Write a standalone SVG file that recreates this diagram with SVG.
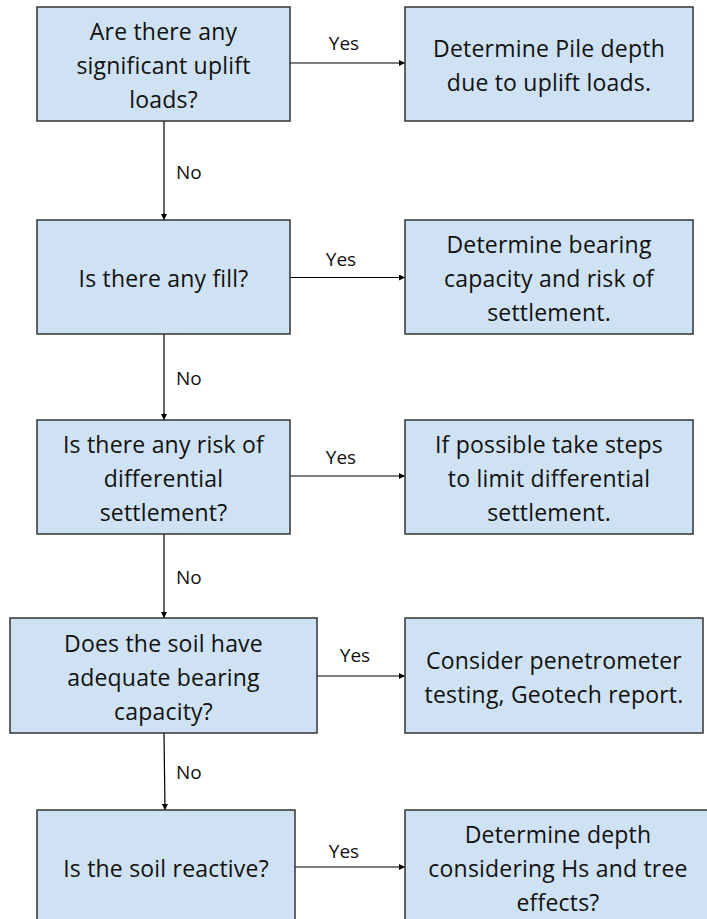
<svg xmlns="http://www.w3.org/2000/svg" width="707" height="919" viewBox="0 0 707 919">
<style>
.box{fill:#cfe2f3;stroke:#333;stroke-width:1.5}
.t{font-family:"Open Sans","Liberation Sans",sans-serif;font-size:23px;fill:#111;text-anchor:middle;letter-spacing:0.2px}
.lbl{font-family:"Open Sans","Liberation Sans",sans-serif;font-size:19px;fill:#111}
.c{stroke:#000;stroke-width:1.2;fill:none;marker-end:url(#ah)}
</style>
<defs>
<marker id="ah" viewBox="0 0 10 10" refX="10" refY="5" markerWidth="6" markerHeight="6" markerUnits="userSpaceOnUse" orient="auto">
<path d="M0,0 L10,5 L0,10 z" fill="#000"/>
</marker>
</defs>
<rect width="707" height="919" fill="#fff"/>
<g id="connectors">
<path class="c" d="M290,63 H405"/>
<path class="c" d="M164,121 V220"/>
<path class="c" d="M290,277.5 H405"/>
<path class="c" d="M164,334 V420"/>
<path class="c" d="M290,476 H405"/>
<path class="c" d="M164,534 V618"/>
<path class="c" d="M317,676 H405"/>
<path class="c" d="M164,733 L165,810"/>
<path class="c" d="M295,867 H405"/>
<text class="lbl" x="344" y="50" text-anchor="middle">Yes</text>
<text class="lbl" x="341" y="266" text-anchor="middle">Yes</text>
<text class="lbl" x="341" y="464" text-anchor="middle">Yes</text>
<text class="lbl" x="355" y="662" text-anchor="middle">Yes</text>
<text class="lbl" x="344" y="858" text-anchor="middle">Yes</text>
<text class="lbl" x="176" y="179">No</text>
<text class="lbl" x="176" y="385">No</text>
<text class="lbl" x="176" y="584">No</text>
<text class="lbl" x="176" y="779">No</text>
</g>
<g id="q1">
<rect class="box" x="37" y="7" width="253" height="114"/>
<text class="t" x="163.5" y="40">Are there any</text>
<text class="t" x="163.5" y="74">significant uplift</text>
<text class="t" x="163.5" y="108">loads?</text>
</g>
<g id="a1">
<rect class="box" x="405" y="7" width="288" height="114"/>
<text class="t" x="549" y="57">Determine Pile depth</text>
<text class="t" x="549" y="91">due to uplift loads.</text>
</g>
<g id="q2">
<rect class="box" x="37" y="220" width="253" height="114"/>
<text class="t" x="163.5" y="287">Is there any fill?</text>
</g>
<g id="a2">
<rect class="box" x="405" y="220" width="288" height="114"/>
<text class="t" x="549" y="253">Determine bearing</text>
<text class="t" x="549" y="287">capacity and risk of</text>
<text class="t" x="549" y="321">settlement.</text>
</g>
<g id="q3">
<rect class="box" x="37" y="420" width="253" height="114"/>
<text class="t" x="163.5" y="453">Is there any risk of</text>
<text class="t" x="163.5" y="487">differential</text>
<text class="t" x="163.5" y="521">settlement?</text>
</g>
<g id="a3">
<rect class="box" x="405" y="420" width="288" height="114"/>
<text class="t" x="549" y="453">If possible take steps</text>
<text class="t" x="549" y="487">to limit differential</text>
<text class="t" x="549" y="521">settlement.</text>
</g>
<g id="q4">
<rect class="box" x="10" y="618" width="307" height="115"/>
<text class="t" x="163.5" y="652">Does the soil have</text>
<text class="t" x="163.5" y="686">adequate bearing</text>
<text class="t" x="163.5" y="720">capacity?</text>
</g>
<g id="a4">
<rect class="box" x="405" y="618" width="298" height="115"/>
<text class="t" x="554" y="669">Consider penetrometer</text>
<text class="t" x="554" y="703">testing, Geotech report.</text>
</g>
<g id="q5">
<rect class="box" x="37" y="810" width="258" height="114"/>
<text class="t" x="166" y="877">Is the soil reactive?</text>
</g>
<g id="a5">
<rect class="box" x="405" y="810" width="310" height="114"/>
<text class="t" x="558" y="843">Determine depth</text>
<text class="t" x="558" y="877">considering Hs and tree</text>
<text class="t" x="558" y="911">effects?</text>
</g>
</svg>
